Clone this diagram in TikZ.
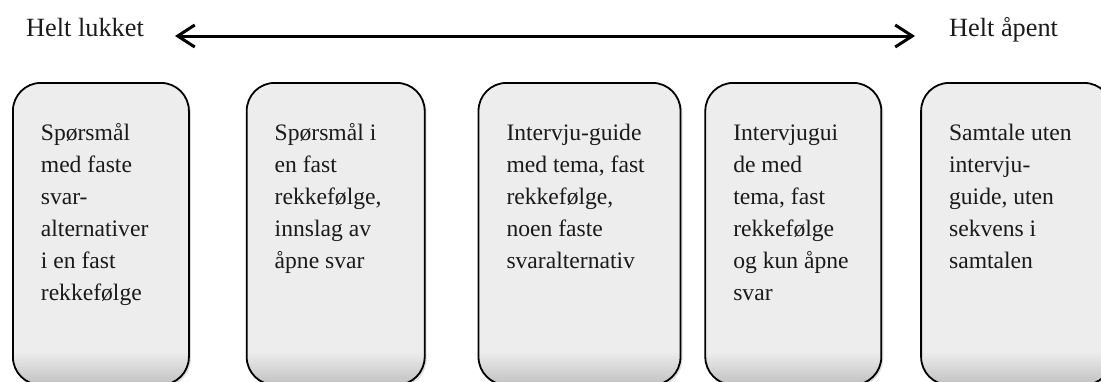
\documentclass[tikz,border=0pt]{standalone}
\usepackage{fontspec}
\setmainfont{Liberation Serif}
\usepackage{tikz}
\usetikzlibrary{arrows.meta,positioning,shadows}
\definecolor{boxfill}{HTML}{EDEDED}
\definecolor{boxshade}{HTML}{C2C2C2}
\definecolor{ink}{HTML}{1A1A1A}
\newcommand{\stagetext}[2]{\parbox[t][230.8pt][t]{#1}{\raggedright\strut #2}}
% darker band at the foot of each box, in thin steps
\tikzset{stagebox/.style={draw=black,line width=1.8pt,rounded corners=28pt,fill=boxfill,inner xsep=28pt,inner ysep=35.6pt,text=ink,font=\fontsize{23.6}{32}\selectfont,drop shadow={opacity=.25,shadow xshift=2pt,shadow yshift=-2pt},path picture={\foreach \k in {0,...,16}{\pgfmathtruncatemacro\pct{\k*100/16}\pgfmathsetmacro\ys{34-2*\k}\pgfmathsetmacro\yb{31.8-2*\k}\fill[sharp corners,boxshade!\pct!boxfill] ([yshift=\ys pt]path picture bounding box.south west) rectangle ([yshift=\yb pt]path picture bounding box.south east);}}},endlabel/.style={inner sep=0pt,text=ink,font=\fontsize{26.3}{30}\selectfont},scale arrow/.style={{Straight Barb[length=17pt,width=22pt]}-{Straight Barb[length=17pt,width=22pt]},line width=3pt,draw=black}}

\begin{document}
\begin{tikzpicture}[x=1pt,y=-1pt]
\useasboundingbox (0,0) rectangle (1101,381);
\clip (0,0) rectangle (1101,381);
\node[endlabel,anchor=base west] (lukket) at (26,36) {Helt lukket};
\node[endlabel,anchor=base west] (apent) at (949,36) {Helt åpent};
\draw[scale arrow,shorten <=31pt,shorten >=34pt] (lukket.base east) -- (apent.base west);
\node[stagebox,anchor=north west] (b1) at (12,82) {\stagetext{120pt}{Spørsmål\\med faste\\svar-\\alternativer\\i en fast\\rekkefølge}};
\node[stagebox,right=56pt of b1] (b2) {\stagetext{122pt}{Spørsmål i\\en fast\\rekkefølge,\\innslag av\\åpne svar}};
\node[stagebox,right=52pt of b2] (b3) {\stagetext{146pt}{Intervju-guide\\med tema, fast\\rekkefølge,\\noen faste\\svaralternativ}};
\node[stagebox,right=23pt of b3] (b4) {\stagetext{120pt}{Intervjugui\\de med\\tema, fast\\rekkefølge\\og kun åpne\\svar}};
\node[stagebox,right=38pt of b4] (b5) {\stagetext{135pt}{Samtale uten\\intervju-\\guide, uten\\sekvens i\\samtalen}};
\end{tikzpicture}
\end{document}
